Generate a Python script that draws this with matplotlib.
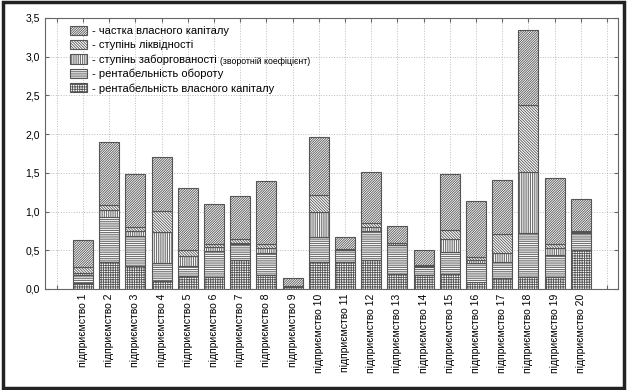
import numpy as np
import matplotlib.pyplot as plt
from matplotlib.patches import Rectangle
from matplotlib.ticker import FuncFormatter

plt.rcParams['font.family'] = ['Liberation Sans', 'DejaVu Sans']
plt.rcParams['hatch.linewidth'] = 0.6
plt.rcParams['hatch.color'] = '#444444'

labels = [f"підприємство {i}" for i in range(1, 21)]

# bottom to top
roe = [0.08, 0.35, 0.30, 0.10, 0.17, 0.15, 0.38, 0.18, 0.02, 0.345,
       0.345, 0.38, 0.20, 0.18, 0.20, 0.09, 0.146, 0.16, 0.16, 0.50]
ro = [0.10, 0.575, 0.39, 0.23, 0.13, 0.34, 0.20, 0.28, 0.01, 0.325,
      0.155, 0.37, 0.37, 0.11, 0.28, 0.25, 0.20, 0.56, 0.28, 0.22]
debt = [0.03, 0.095, 0.06, 0.40, 0.12, 0.05, 0.02, 0.07, 0.005, 0.32,
        0.01, 0.05, 0.02, 0.01, 0.16, 0.04, 0.115, 0.79, 0.09, 0.02]
liq = [0.07, 0.06, 0.05, 0.28, 0.08, 0.04, 0.04, 0.05, 0.005, 0.23,
       0.01, 0.05, 0.01, 0.01, 0.12, 0.03, 0.25, 0.86, 0.05, 0.01]
equity = [0.35, 0.82, 0.69, 0.69, 0.81, 0.52, 0.56, 0.82, 0.10, 0.74,
          0.15, 0.66, 0.21, 0.19, 0.72, 0.73, 0.69, 0.98, 0.85, 0.415]

series = [
    (roe, '+' * 7, '- рентабельність власного капіталу'),
    (ro, '-' * 9, '- рентабельність обороту'),
    (debt, '|' * 9, '- ступінь заборгованості'),
    (liq, '\\' * 12, '- ступінь ліквідності'),
    (equity, '/' * 14, '- частка власного капіталу'),
]

fig = plt.figure(figsize=(6.27, 3.90), dpi=100)
ax = fig.add_axes([0.0718, 0.259, 0.9138, 0.695])

x = np.arange(len(labels))
bottom = np.zeros(len(labels))
handles = []
for vals, hatch, name in series:
    b = ax.bar(x, vals, 0.76, bottom=bottom, color='white', edgecolor='#555555',
               hatch=hatch, linewidth=0.8, label=name, zorder=3)
    handles.append(b)
    bottom += np.array(vals)

ax.set_xlim(-1.45, 20.42)
ax.set_ylim(0, 3.5)
ax.set_yticks(np.arange(0, 3.51, 0.5))
ax.yaxis.set_major_formatter(FuncFormatter(lambda v, p: f"{v:.1f}".replace('.', ',')))
ax.set_xticks(np.arange(-1, 21))
ax.set_xticklabels([''] + labels + [''], rotation=90, fontsize=7.5)
ax.tick_params(axis='y', labelsize=7.5, direction='in', right=True, length=3, color='#666666')
ax.tick_params(axis='x', direction='in', top=True, length=3, color='#666666')
ax.grid(True, linestyle=':', color='#bbbbbb', linewidth=0.7, zorder=0)
for s in ax.spines.values():
    s.set_color('#666666')
    s.set_linewidth(0.8)

leg = ax.legend(handles[::-1], [h.get_label() for h in handles[::-1]],
                loc='upper left', bbox_to_anchor=(0.03, 1.0), frameon=False,
                fontsize=8, handlelength=1.5, handleheight=0.9,
                labelspacing=0.35, handletextpad=0.5, borderaxespad=0.3)

fig.canvas.draw()
t = leg.get_texts()[2]
bb = t.get_window_extent()
inv = fig.transFigure.inverted()
x0, y0 = inv.transform((bb.x1 + 3, bb.y0 + 1))
fig.text(x0, y0, '(зворотній коефіцієнт)', fontsize=6.3, va='baseline', ha='left')

fig.patches.append(Rectangle((0.004, 0.006), 0.992, 0.988, transform=fig.transFigure,
                             fill=False, edgecolor='#222222', linewidth=2.5))

fig.savefig('out.png', dpi=100)
